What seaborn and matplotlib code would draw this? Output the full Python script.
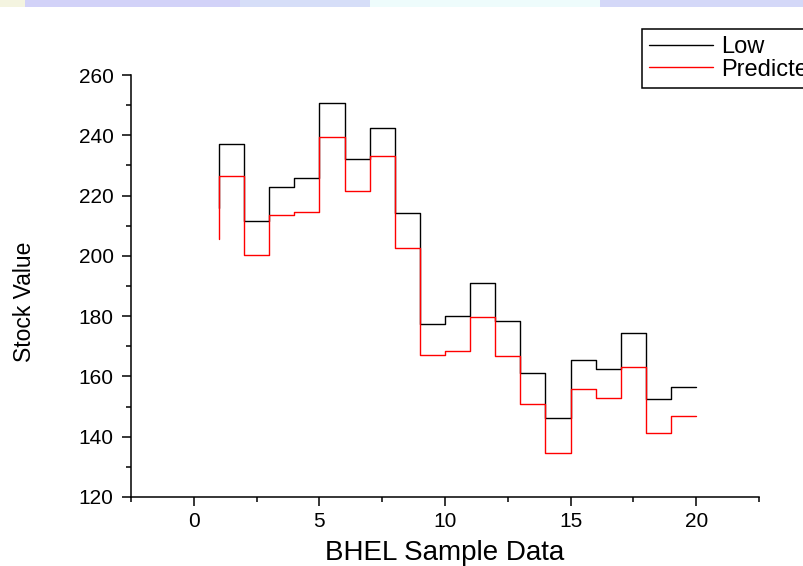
import numpy as np
import pandas as pd
import matplotlib
matplotlib.use("Agg")
import matplotlib.pyplot as plt
from matplotlib.patches import Rectangle
from matplotlib.ticker import MultipleLocator
import seaborn as sns

# ---- data ----
sample = list(range(1, 21))
low = [216.0, 237.1, 211.6, 222.9, 225.9, 250.8, 232.0, 242.5, 214.1, 177.4,
       179.9, 191.1, 178.4, 161.2, 146.2, 165.5, 162.4, 174.5, 152.5, 156.5]
predicted = [205.6, 226.5, 200.2, 213.4, 214.4, 239.3, 221.6, 233.0, 202.7, 167.0,
             168.4, 179.7, 166.9, 150.7, 134.6, 155.9, 152.9, 163.0, 141.1, 147.0]
series_names = ["Low", "Predicted"]
series_colors = ["black", "red"]
x_ticks = [0, 5, 10, 15, 20]
y_ticks = [120, 140, 160, 180, 200, 220, 240, 260]

df = pd.DataFrame({
    "x": sample * 2,
    "value": low + predicted,
    "series": [series_names[0]] * len(sample) + [series_names[1]] * len(sample),
})

sns.set_style("ticks")
plt.rcParams["font.family"] = ["Liberation Sans", "DejaVu Sans"]
plt.rcParams["text.color"] = "black"
plt.rcParams["axes.labelcolor"] = "black"
plt.rcParams["xtick.color"] = "black"
plt.rcParams["ytick.color"] = "black"

fig = plt.figure(figsize=(8.04, 5.66), dpi=100)
ax = fig.add_axes([131 / 804, 1 - 497 / 566, (759 - 131) / 804, (497 - 75) / 566])

sns.lineplot(data=df, x="x", y="value", hue="series",
             palette=dict(zip(series_names, series_colors)),
             drawstyle="steps-pre", linewidth=1.0, estimator=None,
             sort=False, legend=False, ax=ax)

ax.set_xlim(-2.5, 22.5)
ax.set_ylim(120, 260)
ax.set_xticks(x_ticks)
ax.set_yticks(y_ticks)
ax.xaxis.set_minor_locator(MultipleLocator(2.5))
ax.yaxis.set_minor_locator(MultipleLocator(10))
ax.tick_params(which="major", direction="out", length=6.5, width=1.1,
               labelsize=15, pad=6, color="black", labelcolor="black")
ax.tick_params(which="minor", direction="out", length=3.8, width=1.1, color="black")
ax.tick_params(axis="x", which="major", pad=4)
for s in ["top", "right"]:
    ax.spines[s].set_visible(False)
for s in ["left", "bottom"]:
    ax.spines[s].set_linewidth(1.1)
    ax.spines[s].set_color("black")

ax.set_xlabel("BHEL Sample Data", fontsize=20, color="black")
ax.set_ylabel("Stock Value", fontsize=16.5, color="black")
ax.xaxis.set_label_coords(0.5, -0.101)
ax.xaxis.label.set_va("top")
ax.yaxis.set_label_coords(-0.151, 0.462)

handles = ax.lines[:2]
leg = fig.legend(handles, series_names, loc="upper left",
                 bbox_to_anchor=(642 / 804, 1 - 29 / 566),
                 bbox_transform=fig.transFigure, borderaxespad=0,
                 fontsize=17, frameon=True, fancybox=False, framealpha=1,
                 edgecolor="black", handlelength=2.7, handletextpad=0.35,
                 borderpad=0.3, labelspacing=0.02)
leg.get_frame().set_linewidth(1.1)
for t in leg.get_texts():
    t.set_color("black")

# decorative top band from the screenshot
band_h = 7 / 566
for x0, x1, c in [(0, 25, "#f4f4e0"), (25, 240, "#d2d2f8"), (240, 370, "#d6def8"),
                  (370, 600, "#eefcfc"), (600, 804, "#d4d8f8")]:
    fig.patches.append(Rectangle((x0 / 804, 1 - band_h), (x1 - x0) / 804, band_h,
                                 transform=fig.transFigure, facecolor=c,
                                 edgecolor="none", zorder=0))

fig.savefig("out.png", dpi=100)
